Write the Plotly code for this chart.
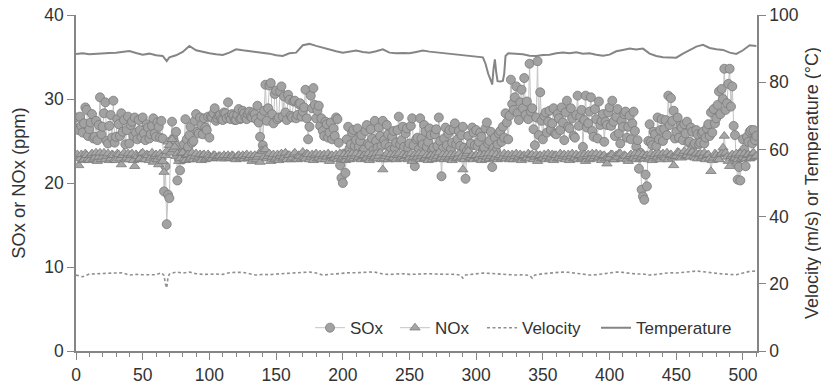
import plotly.graph_objects as go

# ---------------- data ----------------
sample_x = list(range(0, 511))

sox = [
    27.8, 26.5, 26.3, 27.9, 26.8, 26.0, 27.1, 29.0, 28.7, 25.6, 26.4, 27.2, 28.2, 25.3, 25.5, 27.4, 25.1, 26.9, 30.2, 25.8,
    26.7, 28.3, 29.6, 25.0, 24.7, 26.8, 28.1, 25.4, 29.8, 24.8, 25.5, 27.6, 27.0, 25.6, 28.3, 26.1, 27.5, 24.6, 26.3, 27.9,
    24.7, 26.9, 27.3, 25.6, 27.8, 26.0, 25.2, 27.5, 26.3, 25.4, 27.8, 25.9, 25.1, 27.0, 26.6, 25.3, 25.8, 26.8, 27.7, 25.9,
    25.5, 27.2, 26.7, 25.4, 27.4, 25.3, 19.0, 22.0, 15.1, 18.6, 18.2, 24.9, 27.3, 25.3, 24.8, 26.1, 20.3, 22.9, 21.5, 24.0,
    22.8, 24.6, 27.6, 25.2, 24.3, 25.7, 26.7, 24.8, 25.0, 27.4, 28.2, 26.1, 25.9, 27.8, 26.9, 25.8, 27.7, 26.6, 26.3, 27.9,
    25.4, 27.9, 27.8, 28.3, 28.9, 27.4, 27.7, 28.0, 28.1, 27.6, 27.5, 28.4, 28.3, 27.7, 29.6, 27.9, 27.6, 28.2, 28.0, 27.5,
    27.5, 28.1, 28.8, 27.6, 27.7, 28.6, 28.3, 27.8, 27.6, 28.2, 28.5, 27.9, 27.8, 28.4, 28.2, 27.6, 29.2, 27.2, 25.5, 28.0,
    24.5, 28.6, 31.7, 27.4, 28.9, 31.6, 31.9, 28.2, 27.1, 30.6, 31.0, 27.6, 27.8, 30.9, 31.5, 27.9, 30.3, 28.4, 27.5, 30.5,
    29.9, 28.0, 27.8, 29.7, 29.8, 27.7, 28.1, 29.4, 29.5, 27.9, 28.5, 29.0, 31.1, 27.7, 25.2, 26.7, 30.4, 28.9, 31.3, 29.3,
    27.7, 28.6, 29.2, 26.8, 27.7, 26.2, 25.6, 27.3, 27.0, 25.4, 26.0, 27.2, 25.2, 26.5, 25.6, 27.8, 27.6, 24.8, 22.1, 20.6,
    20.0, 23.5, 21.2, 25.2, 26.7, 24.1, 24.6, 26.0, 26.3, 24.4, 25.1, 26.5, 24.3, 25.0, 25.7, 23.8, 24.0, 26.2, 26.9, 24.7,
    24.5, 26.4, 25.3, 23.9, 27.4, 25.0, 24.2, 26.6, 25.6, 24.4, 27.4, 25.1, 24.6, 26.9, 25.8, 24.3, 23.9, 25.5, 26.2, 24.1,
    24.8, 26.3, 27.9, 24.6, 25.1, 26.7, 24.3, 25.9, 26.5, 24.2, 24.7, 26.8, 27.7, 24.5, 22.0, 25.2, 25.4, 24.0, 27.7, 25.3,
    24.6, 26.9, 26.1, 24.3, 24.9, 26.5, 25.7, 23.9, 24.2, 25.8, 26.4, 24.4, 27.8, 25.0, 20.8, 24.1, 25.3, 26.6, 24.5, 25.9,
    26.3, 24.0, 24.8, 26.4, 27.1, 24.6, 25.2, 26.2, 24.4, 25.7, 26.7, 24.2, 20.5, 23.8, 25.6, 24.3, 24.7, 26.6, 26.0, 24.5,
    26.3, 24.4, 24.9, 26.0, 25.5, 23.9, 24.2, 26.5, 27.2, 24.7, 25.0, 26.1, 21.9, 24.2, 25.4, 23.8, 24.6, 25.9, 26.2, 24.9,
    26.7, 25.4, 28.3, 27.2, 25.2, 28.0, 32.3, 29.4, 28.7, 30.2, 31.5, 28.3, 27.5, 29.6, 31.1, 28.9, 32.5, 28.1, 29.7, 27.6,
    34.2, 28.5, 28.9, 26.4, 24.5, 27.8, 34.5, 25.7, 30.8, 27.4, 25.2, 28.0, 28.4, 26.0, 27.3, 28.6, 26.3, 27.1, 28.9, 25.9,
    25.8, 28.2, 27.7, 26.3, 29.0, 27.2, 25.1, 28.4, 29.8, 26.7, 26.5, 28.9, 27.7, 25.6, 25.4, 28.1, 30.4, 26.8, 27.9, 28.7,
    24.3, 27.5, 30.4, 26.6, 27.1, 28.5, 30.2, 26.2, 25.5, 28.8, 27.6, 25.3, 29.7, 26.9, 27.4, 28.2, 24.9, 27.3, 26.9, 28.4,
    29.0, 26.8, 29.8, 27.3, 25.6, 27.9, 28.8, 25.9, 24.7, 27.4, 26.7, 28.2, 28.5, 25.4, 26.7, 28.0, 25.2, 27.1, 28.5, 26.2,
    24.3, 25.1, 21.7, 23.6, 19.2, 18.4, 18.0, 21.0, 19.6, 25.0, 27.0, 24.9, 24.5, 26.1, 25.8, 24.4, 27.8, 25.2, 26.3, 27.6,
    25.0, 26.4, 27.5, 25.7, 30.4, 26.9, 30.1, 27.4, 28.6, 25.3, 26.1, 27.8, 25.4, 26.8, 26.6, 25.1, 27.0, 25.9, 27.3, 24.8,
    24.9, 26.6, 26.1, 24.5, 24.7, 26.3, 25.8, 24.6, 24.8, 25.9, 26.1, 24.7, 25.4, 26.5, 27.0, 25.6, 28.4, 26.0, 28.8, 27.1,
    27.7, 29.3, 30.9, 28.2, 31.2, 30.0, 33.6, 28.7, 29.5, 31.8, 33.6, 29.1, 31.5, 26.8, 25.7, 22.5, 20.4, 21.9, 20.3, 23.6,
    25.2, 24.0, 22.0, 25.5, 24.9, 26.1, 26.3, 24.7, 26.3, 25.1, 25.6,
]

nox = [
    23.0, 23.4, 22.1, 22.9, 23.4, 22.7, 22.8, 23.5, 23.3, 22.9, 22.7, 23.3, 23.5, 22.8, 23.0, 23.6, 22.6, 23.1, 23.6, 22.8,
    23.1, 23.6, 22.8, 23.2, 23.5, 22.7, 22.9, 23.4, 23.3, 22.8, 22.7, 23.5, 23.4, 22.9, 22.2, 23.3, 23.6, 22.8, 23.0, 23.5,
    22.8, 23.3, 23.5, 22.7, 22.0, 23.4, 23.2, 22.8, 22.9, 23.5, 23.6, 22.9, 22.8, 23.4, 23.3, 22.7, 23.0, 23.6, 22.5, 23.2,
    23.4, 22.8, 22.2, 23.5, 23.1, 22.6, 21.3, 23.3, 23.8, 24.9, 24.5, 23.6, 25.2, 24.0, 24.3, 23.2, 23.5, 22.6, 22.9, 23.6,
    23.6, 22.9, 22.7, 23.3, 23.4, 22.8, 23.0, 23.6, 22.8, 23.2, 23.5, 22.9, 23.1, 23.4, 22.7, 23.3, 23.4, 22.8, 23.0, 23.4,
    23.2, 23.0, 22.9, 23.3, 23.3, 23.0, 23.0, 23.2, 23.2, 22.9, 23.1, 23.3, 22.9, 23.1, 23.3, 23.0, 23.0, 23.3, 23.2, 22.9,
    22.8, 23.2, 23.3, 22.9, 23.1, 23.3, 22.9, 23.2, 23.4, 22.9, 23.0, 23.3, 22.6, 23.1, 23.3, 22.8, 23.1, 23.4, 22.5, 23.9,
    23.8, 23.1, 24.0, 22.9, 23.2, 23.5, 22.6, 23.1, 23.4, 22.8, 23.0, 23.4, 22.7, 23.2, 23.5, 22.9, 23.1, 23.6, 22.8, 23.3,
    23.3, 22.8, 23.0, 23.4, 23.6, 22.9, 22.8, 23.3, 23.2, 22.9, 23.7, 23.1, 22.9, 23.5, 23.4, 22.8, 23.1, 23.4, 22.7, 23.3,
    23.5, 22.9, 23.0, 23.4, 22.8, 23.2, 23.4, 22.8, 23.1, 23.5, 22.6, 23.2, 23.3, 22.9, 23.0, 23.4, 22.8, 23.2, 23.5, 22.9,
    23.1, 23.4, 22.7, 23.2, 23.4, 22.8, 23.0, 23.5, 22.9, 23.2, 23.5, 22.9, 23.1, 23.4, 22.8, 23.2, 23.3, 22.9, 23.0, 23.5,
    22.7, 23.2, 23.4, 22.9, 23.1, 23.5, 22.9, 23.2, 23.6, 22.8, 21.6, 22.9, 23.2, 23.5, 22.8, 23.1, 23.4, 22.9, 23.0, 23.4,
    22.8, 23.3, 23.5, 22.9, 23.1, 23.4, 22.9, 23.2, 23.3, 22.8, 23.0, 23.5, 22.6, 23.1, 23.4, 22.9, 23.1, 23.5, 22.8, 23.2,
    23.5, 22.9, 23.0, 23.3, 22.7, 23.2, 23.3, 22.8, 23.1, 23.4, 22.9, 23.2, 23.6, 22.9, 23.0, 23.4, 22.8, 23.1, 23.4, 22.9,
    23.1, 23.4, 22.7, 23.2, 23.4, 22.9, 23.0, 23.5, 22.9, 23.1, 21.6, 22.8, 23.2, 23.5, 23.8, 23.0, 23.0, 23.3, 22.8, 23.2,
    23.3, 22.9, 23.0, 23.4, 22.7, 23.2, 23.4, 22.8, 23.1, 23.5, 22.9, 23.2, 23.5, 22.9, 23.0, 23.4, 22.8, 23.1, 23.3, 22.9,
    23.1, 23.5, 22.9, 23.2, 23.4, 22.8, 23.0, 23.4, 22.8, 23.2, 23.5, 22.9, 23.1, 23.4, 22.7, 23.2, 23.3, 22.9, 23.0, 23.5,
    22.9, 23.3, 23.4, 22.8, 23.1, 23.4, 22.6, 23.2, 23.3, 22.9, 23.0, 23.4, 22.8, 23.2, 23.5, 22.9, 23.1, 23.4, 22.7, 23.3,
    23.3, 22.9, 23.0, 23.5, 22.9, 23.2, 23.4, 22.8, 23.1, 23.4, 22.7, 23.2, 23.5, 22.9, 23.0, 23.4, 22.8, 23.2, 23.3, 22.9,
    23.1, 23.4, 22.6, 23.2, 23.4, 22.8, 23.0, 23.5, 22.9, 23.2, 23.5, 22.9, 23.1, 23.4, 22.7, 23.2, 23.3, 22.9, 22.3, 23.1,
    23.0, 23.4, 23.4, 22.8, 22.8, 23.3, 23.1, 23.5, 23.5, 22.9, 22.9, 23.3, 23.2, 22.8, 22.6, 23.2, 23.4, 22.9, 23.0, 23.5,
    22.8, 23.2, 23.5, 22.9, 23.1, 23.4, 22.9, 23.2, 23.3, 22.8, 23.0, 23.5, 22.7, 23.2, 23.4, 22.9, 23.1, 23.5, 22.8, 23.3,
    23.5, 23.1, 23.0, 23.6, 22.8, 23.3, 23.4, 23.0, 22.1, 23.2, 23.2, 23.7, 23.6, 23.1, 23.0, 23.5, 23.8, 23.2, 23.3, 23.7,
    23.1, 23.6, 23.7, 23.2, 23.0, 23.5, 22.9, 23.4, 23.5, 23.0, 23.2, 23.6, 22.8, 23.3, 23.4, 22.9, 21.4, 22.7, 23.0, 23.5,
    23.3, 22.9, 22.8, 23.4, 23.5, 24.2, 25.6, 23.6, 23.1, 22.6, 22.0, 23.2, 23.4, 22.9, 23.0, 23.5, 22.8, 23.3, 23.5, 22.9,
    23.1, 23.5, 22.9, 23.3, 23.4, 22.9, 23.0, 23.5, 23.6, 23.1, 23.2,
]

temp_x = [
    0, 5, 10, 15, 20, 25, 30, 35, 40, 45, 50, 55, 60, 65, 68, 70, 75, 80, 85, 90,
    95, 100, 105, 110, 115, 120, 125, 130, 135, 140, 145, 150, 155, 160, 165, 170,
    175, 180, 185, 190, 195, 200, 205, 210, 215, 220, 225, 230, 235, 240, 245, 250,
    255, 260, 265, 270, 275, 280, 285, 290, 295, 300, 305, 307, 309, 311, 312, 313,
    314, 315, 316, 318, 320, 321, 322, 324, 330, 335, 340, 345, 350, 355, 360, 365,
    370, 375, 380, 385, 390, 395, 400, 405, 410, 415, 420, 425, 430, 435, 440, 445,
    450, 455, 460, 465, 470, 475, 480, 485, 490, 495, 500, 505, 510,
]
temperature = [
    88.4, 88.6, 88.3, 88.5, 88.6, 88.7, 88.8, 89.0, 89.3, 88.7, 88.2, 88.5, 88.0, 87.8, 86.3, 87.4, 88.0, 89.0, 90.8, 89.5,
    89.0, 88.6, 88.3, 88.1, 88.8, 89.8, 89.5, 89.3, 89.0, 88.8, 88.5, 88.0, 87.8, 88.6, 88.8, 91.0,
    91.4, 90.8, 90.2, 89.8, 89.2, 88.8, 89.2, 89.4, 89.0, 88.8, 89.2, 89.8, 88.8, 88.6, 88.7, 88.6,
    89.0, 89.4, 89.1, 88.9, 88.8, 88.5, 88.3, 88.0, 87.8, 87.7, 87.4, 85.5, 82.5, 80.5, 79.3, 84.0,
    86.8, 83.0, 80.3, 80.2, 80.4, 82.5, 87.8, 88.6, 88.5, 88.3, 87.9, 87.8, 88.1, 88.2, 88.6, 88.8,
    88.6, 88.9, 88.5, 88.6, 88.2, 87.9, 88.2, 89.2, 89.6, 90.0, 89.7, 90.0, 88.5, 87.8, 87.4, 87.3,
    87.3, 88.5, 89.5, 90.6, 91.1, 90.2, 89.8, 89.6, 88.8, 88.4, 89.5, 91.0, 90.8,
]

vel_x = [
    0, 5, 10, 15, 20, 25, 30, 35, 40, 45, 50, 55, 60, 64, 66, 67, 68, 69, 70, 75,
    80, 85, 90, 95, 100, 105, 110, 115, 120, 125, 130, 135, 140, 145, 150, 155, 160,
    165, 170, 175, 180, 185, 190, 195, 200, 205, 210, 215, 220, 225, 230, 235, 240,
    245, 250, 255, 260, 265, 270, 275, 280, 285, 288, 290, 292, 295, 300, 305, 310,
    315, 320, 325, 330, 335, 340, 342, 344, 350, 355, 360, 365, 370, 375, 380, 385,
    390, 395, 400, 405, 410, 415, 420, 425, 430, 435, 440, 445, 450, 455, 460, 465,
    470, 475, 480, 485, 490, 495, 500, 505, 510,
]
velocity = [
    22.6, 22.1, 22.9, 23.0, 23.1, 23.2, 23.3, 23.3, 22.6, 22.8, 22.7, 22.6, 22.7, 23.3, 22.5, 20.0, 18.8, 22.0, 22.9, 23.5,
    23.2, 23.5, 23.0, 22.8, 22.9, 22.9, 22.8, 23.3, 23.4, 23.4, 23.0, 22.6, 22.8, 22.7, 22.9, 23.0, 23.2,
    23.3, 23.4, 23.5, 23.2, 22.6, 22.8, 23.0, 23.1, 23.3, 23.3, 23.5, 23.5, 23.4, 22.9, 22.8, 22.9,
    23.0, 22.8, 22.9, 22.9, 23.0, 22.9, 22.9, 22.9, 22.8, 22.6, 21.7, 22.6, 22.7, 23.0, 23.2, 23.1,
    23.0, 22.8, 22.6, 22.6, 22.7, 22.5, 21.7, 22.6, 23.0, 23.2, 23.3, 23.5, 23.4, 23.1, 22.8, 22.6,
    22.7, 22.9, 23.1, 23.5, 23.4, 23.1, 22.9, 22.9, 22.6, 22.8, 23.0, 23.3, 23.2, 23.4, 23.6, 23.8,
    23.6, 23.3, 23.0, 22.9, 22.8, 22.7, 23.2, 23.7, 23.8,
]

left_ticks = [0, 10, 20, 30, 40]
right_ticks = [0, 20, 40, 60, 80, 100]
x_ticks = [0, 50, 100, 150, 200, 250, 300, 350, 400, 450, 500]

# ---------------- figure ----------------
FONT = "Liberation Sans, Arial, sans-serif"
AX = "#858585"
TXT = "#333333"

fig = go.Figure()
fig.add_trace(go.Scatter(
    x=sample_x, y=sox, name="SOx", mode="lines+markers", legend="legend",
    line=dict(color="#c4c4c4", width=1),
    marker=dict(symbol="circle", size=9, color="#a2a2a2",
                line=dict(color="#7a7a7a", width=0.8)),
))
fig.add_trace(go.Scatter(
    x=sample_x, y=nox, name="NOx", mode="lines+markers", legend="legend2",
    line=dict(color="#c4c4c4", width=1),
    marker=dict(symbol="triangle-up", size=9, color="#a6a6a6",
                line=dict(color="#7a7a7a", width=0.8)),
))
fig.add_trace(go.Scatter(
    x=vel_x, y=velocity, name="Velocity", mode="lines", yaxis="y2", legend="legend3",
    line=dict(color="#909090", width=1.6, dash="3px,2.5px"),
))
fig.add_trace(go.Scatter(
    x=temp_x, y=temperature, name="Temperature", mode="lines", yaxis="y2", legend="legend4",
    line=dict(color="#858585", width=2),
))

def leg(xpos):
    return dict(orientation="h", x=xpos, xanchor="left", y=0.068, yanchor="middle",
                bgcolor="rgba(0,0,0,0)", font=dict(size=17, color=TXT, family=FONT),
                itemwidth=30)

axis_common = dict(showgrid=False, zeroline=False, showline=True, linecolor=AX, linewidth=1.5,
                   ticks="outside", ticklen=7, tickwidth=1.3, tickcolor=AX,
                   tickfont=dict(size=17.5, color=TXT), automargin=False,
                   ticklabeloverflow="allow")

# The page body has an 8 px margin, so the figure is sized/margined to compensate.
fig.update_layout(
    width=821, height=378,
    margin=dict(l=68, r=72, t=7, b=35),
    paper_bgcolor="white", plot_bgcolor="white",
    font=dict(family=FONT, color=TXT, size=17),
    showlegend=True,
    legend=leg(0.3436), legend2=leg(0.4684), legend3=leg(0.5962), legend4=leg(0.7636),
    xaxis=dict(range=[0, 510.5], tickvals=x_ticks,
               minor=dict(dtick=10, ticks="outside", ticklen=4, tickwidth=1.1, tickcolor=AX),
               **axis_common),
    yaxis=dict(range=[0, 40], tickvals=left_ticks,
               title=dict(text="SOx or NOx (ppm)", font=dict(size=18.3, color=TXT), standoff=16),
               **axis_common),
    yaxis2=dict(range=[0, 100], tickvals=right_ticks, overlaying="y", side="right",
                title=dict(text="Velocity (m/s) or Temperature (°C)", font=dict(size=18, color=TXT), standoff=8),
                **axis_common),
)

fig.write_html("out.html")
